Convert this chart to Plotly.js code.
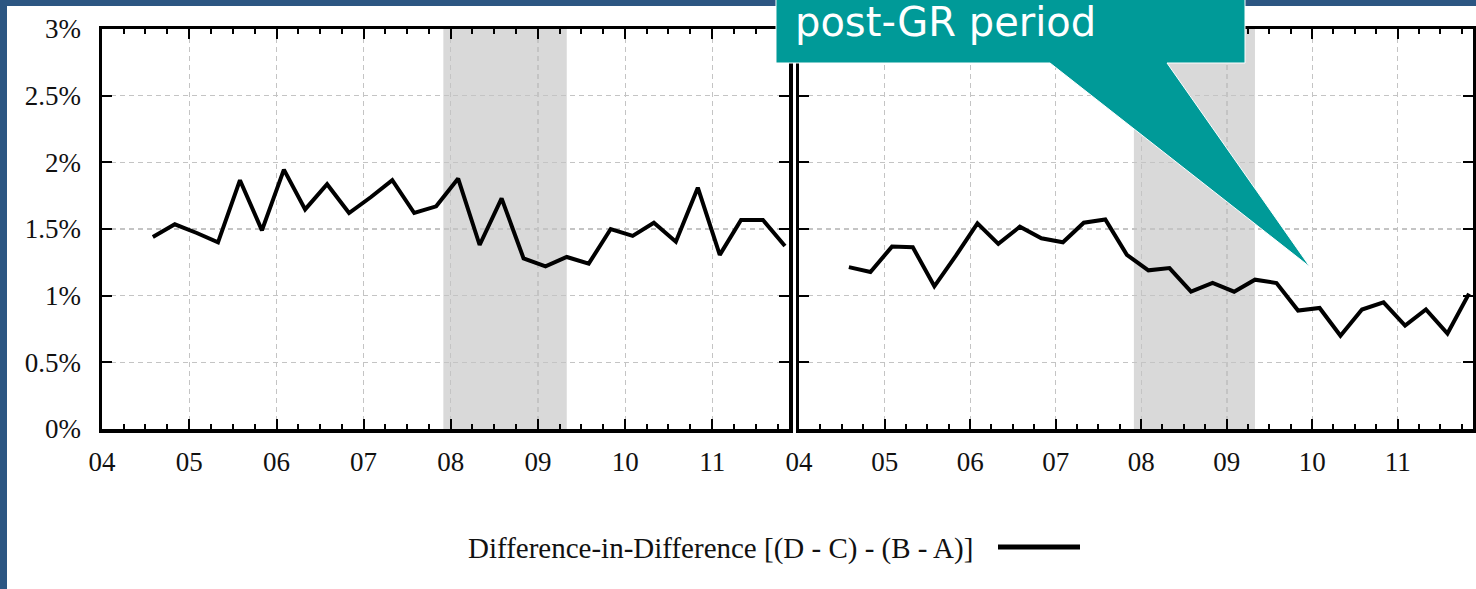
<!DOCTYPE html>
<html>
<head>
<meta charset="utf-8">
<script src="https://cdn.plot.ly/plotly-3.0.1.min.js"></script>
<style>html,body{margin:0;padding:0;background:#fff;}#chart{width:1476px;height:589px;}</style>
</head>
<body>
<div id="chart"></div>
<script>
// ---- data ----
const quarters = ['2004-08','2004-11','2005-02','2005-05','2005-08','2005-11','2006-02','2006-05','2006-08','2006-11',
  '2007-02','2007-05','2007-08','2007-11','2008-02','2008-05','2008-08','2008-11','2009-02','2009-05',
  '2009-08','2009-11','2010-02','2010-05','2010-08','2010-11','2011-02','2011-05','2011-08','2011-11'];
const leftValues = [1.44,1.535,1.47,1.40,1.866,1.49,1.945,1.647,1.836,1.62,
  1.74,1.866,1.62,1.67,1.878,1.38,1.73,1.28,1.22,1.29,
  1.24,1.50,1.448,1.547,1.405,1.81,1.306,1.567,1.567,1.373];
const rightValues = [1.214,1.177,1.368,1.363,1.07,1.30,1.543,1.388,1.517,1.43,
  1.40,1.547,1.572,1.306,1.19,1.207,1.03,1.095,1.03,1.12,
  1.095,0.888,0.908,0.70,0.896,0.95,0.776,0.896,0.716,1.015];
const yTickVals = [0,0.5,1,1.5,2,2.5,3];
const yTickText = ['0%','0.5%','1%','1.5%','2%','2.5%','3%'];
const recessionStart = '2007-12-01';
const recessionEnd = '2009-05-01';
const seriesName = 'Difference-in-Difference [(D - C) - (B - A)]';
const calloutText = 'post-GR period';

// ---- layout helpers (pixel -> paper) ----
const L = 102, R = 3, T = 29, B = 160, W = 1476, H = 589;
const PW = W - L - R, PH = H - T - B;
const px = v => (v - L) / PW;
const py = v => (H - B - v) / PH;

const axisFont = {family: 'Liberation Serif', size: 27, color: '#111'};

function xAxis(domain, anchor) {
  return {
    domain: domain, anchor: anchor, type: 'date',
    range: ['2004-01-01', '2011-11-18'],
    tick0: '2004-01-01', dtick: 'M12', tickformat: '%y',
    ticks: 'inside', ticklen: 10, tickwidth: 2, tickcolor: '#000',
    minor: {dtick: 'M3', tick0: '2004-01-01', ticks: 'inside', ticklen: 5, tickwidth: 2, tickcolor: '#000', showgrid: false},
    showline: true, linewidth: 3.5, linecolor: '#000', mirror: 'ticks',
    showgrid: true, gridcolor: '#c4c4c4', gridwidth: 1.3, griddash: '5px,4px',
    zeroline: false, tickfont: axisFont, ticklabelstandoff: 6, fixedrange: true
  };
}
function yAxis(anchor, labels) {
  return {
    anchor: anchor, range: [0, 3], tickvals: yTickVals, ticktext: yTickText,
    showticklabels: labels,
    ticks: 'inside', ticklen: 10, tickwidth: 2, tickcolor: '#000',
    showline: true, linewidth: 3.5, linecolor: '#000', mirror: 'ticks',
    showgrid: true, gridcolor: '#c4c4c4', gridwidth: 1.3, griddash: '5px,4px',
    zeroline: false, tickfont: axisFont, ticklabelstandoff: 12, fixedrange: true
  };
}

const traces = [
  {x: quarters, y: leftValues, xaxis: 'x', yaxis: 'y', type: 'scatter', mode: 'lines',
   name: seriesName, line: {color: '#000', width: 4}, showlegend: false},
  {x: quarters, y: rightValues, xaxis: 'x2', yaxis: 'y2', type: 'scatter', mode: 'lines',
   name: seriesName, line: {color: '#000', width: 4}, showlegend: false}
];

const blue = '#2c5682';
const teal = '#009a98';
const calloutPath = (() => {
  const pts = [[776,-5],[1245,-5],[1245,63],[1167,63],[1310,267],[1050,63],[776,63]];
  return 'M' + pts.map(p => px(p[0]).toFixed(5) + ',' + py(p[1]).toFixed(5)).join(' L') + ' Z';
})();

const shapes = [
  {type: 'rect', xref: 'x', yref: 'y domain', x0: recessionStart, x1: recessionEnd, y0: 0, y1: 1,
   fillcolor: '#d9d9d9', line: {width: 0}, layer: 'below'},
  {type: 'rect', xref: 'x2', yref: 'y2 domain', x0: recessionStart, x1: recessionEnd, y0: 0, y1: 1,
   fillcolor: '#d9d9d9', line: {width: 0}, layer: 'below'},
  // slide frame
  {type: 'rect', xref: 'paper', yref: 'paper', x0: px(0), x1: px(7), y0: py(589), y1: py(0),
   fillcolor: blue, line: {width: 0}, layer: 'above'},
  {type: 'rect', xref: 'paper', yref: 'paper', x0: px(0), x1: px(1476), y0: py(6), y1: py(0),
   fillcolor: blue, line: {width: 0}, layer: 'above'},
  // callout
  {type: 'path', xref: 'paper', yref: 'paper', path: calloutPath,
   fillcolor: teal, line: {color: '#ffffff', width: 1}, layer: 'above'},
  // legend sample
  {type: 'line', xref: 'paper', yref: 'paper', x0: px(998), x1: px(1080), y0: py(547), y1: py(547),
   line: {color: '#000', width: 5}, layer: 'above'}
];

const annotations = [
  {xref: 'paper', yref: 'paper', x: px(793), y: py(22), xanchor: 'left', yanchor: 'middle',
   text: calloutText, showarrow: false,
   font: {family: 'DejaVu Sans', size: 40, color: '#ffffff'}},
  {xref: 'paper', yref: 'paper', x: px(720), y: py(548), xanchor: 'center', yanchor: 'middle',
   text: seriesName, showarrow: false, font: {family: 'Liberation Serif', size: 29, color: '#111'}}
];

const layout = {
  width: W, height: H,
  margin: {l: L, r: R, t: T, b: B, pad: 0},
  paper_bgcolor: '#ffffff', plot_bgcolor: '#ffffff',
  font: {family: 'Liberation Serif', color: '#111'},
  showlegend: false,
  xaxis: xAxis([0, px(789)], 'y'),
  yaxis: yAxis('x', true),
  xaxis2: xAxis([px(799), 1], 'y2'),
  yaxis2: yAxis('x2', false),
  shapes: shapes,
  annotations: annotations
};

Plotly.newPlot('chart', traces, layout, {staticPlot: true, displayModeBar: false});
</script>
</body>
</html>
